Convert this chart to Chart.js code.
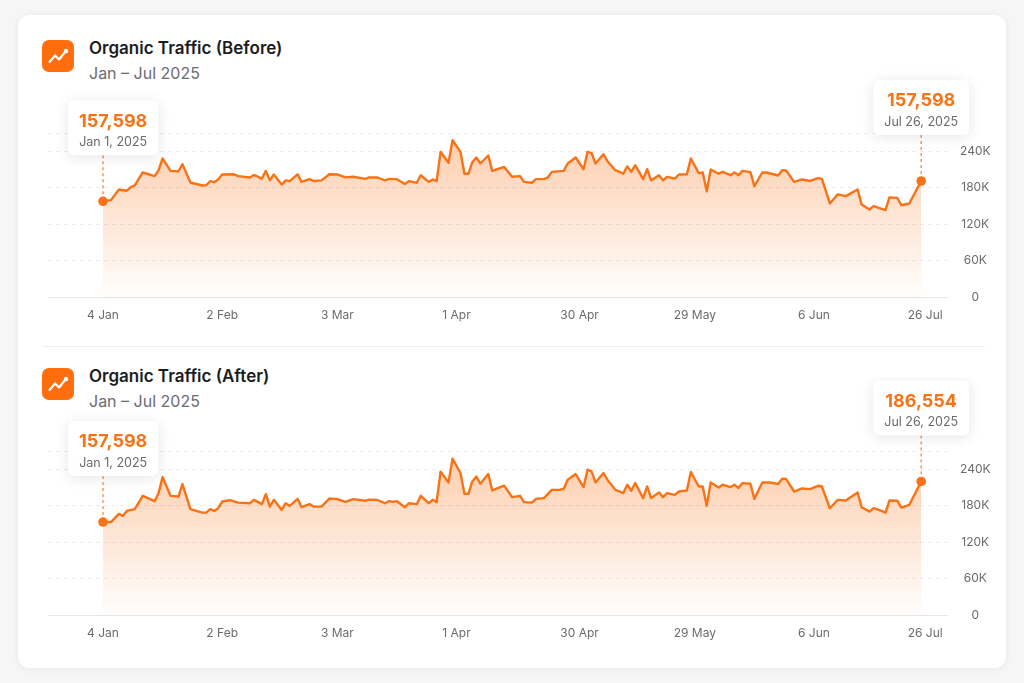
<!DOCTYPE html>
<html>
<head>
<meta charset="utf-8">
<title>Organic Traffic</title>
<script src="https://cdn.jsdelivr.net/npm/chart.js@4.4.1/dist/chart.umd.min.js"></script>
<style>
    html, body {
        margin: 0;
        padding: 0;
        width: 1024px;
        height: 683px;
        background: #f6f6f7;
        font-family: Inter, "Noto Sans", sans-serif;
        overflow: hidden;
    }
    .card {
        position: absolute;
        left: 18px;
        top: 15px;
        width: 988px;
        height: 653px;
        background: #fff;
        border-radius: 12px;
        box-shadow: 0 1px 8px rgba(0, 0, 0, 0.06);
    }
    .icon {
        position: absolute;
        left: 42px;
        width: 32px;
        height: 32px;
        border-radius: 7px;
        background: #ff6d0d;
    }
    .title {
        position: absolute;
        left: 89px;
        font-size: 17px;
        font-weight: 600;
        color: #1c1c1e;
        line-height: 20px;
    }
    .subtitle {
        position: absolute;
        left: 89px;
        font-size: 16px;
        font-weight: 400;
        color: #6b6b6f;
        line-height: 20px;
    }
    .divider {
        position: absolute;
        left: 42px;
        top: 346px;
        width: 943px;
        height: 1px;
        background: #f0f0f1;
    }
    .chart-box {
        position: absolute;
        left: 40px;
        width: 960px;
        height: 275px;
    }
</style>
</head>
<body>
<div class="card"></div>

<!-- Before -->
<div class="icon" style="top:40px">
    <svg width="32" height="32" viewBox="0 0 32 32">
        <polyline points="7.5,22 13,15.5 17,19.5 23.5,11.5" fill="none" stroke="#fff" stroke-width="2.2" stroke-linecap="round" stroke-linejoin="round"/>
        <circle cx="24" cy="11" r="2.2" fill="#fff"/>
    </svg>
</div>
<div class="title" style="top:38px">Organic Traffic (Before)</div>
<div class="subtitle" style="top:63px">Jan – Jul 2025</div>
<div class="chart-box" style="top:60px"><canvas id="chartBefore"></canvas></div>

<div class="divider"></div>

<!-- After -->
<div class="icon" style="top:368px">
    <svg width="32" height="32" viewBox="0 0 32 32">
        <polyline points="7.5,22 13,15.5 17,19.5 23.5,11.5" fill="none" stroke="#fff" stroke-width="2.2" stroke-linecap="round" stroke-linejoin="round"/>
        <circle cx="24" cy="11" r="2.2" fill="#fff"/>
    </svg>
</div>
<div class="title" style="top:366px">Organic Traffic (After)</div>
<div class="subtitle" style="top:391px">Jan – Jul 2025</div>
<div class="chart-box" style="top:378px"><canvas id="chartAfter"></canvas></div>

<script>
// 目盛り（x軸）
var tickDays = [0, 30, 59, 89, 120, 149, 179, 207];
var tickLabels = ["4 Jan", "2 Feb", "3 Mar", "1 Apr", "30 Apr", "29 May", "6 Jun", "26 Jul"];

// 目盛り（y軸）
var yTicks = [0, 60000, 120000, 180000, 240000];
var yTop = 270000;

// Before: 日（1月1日からの日数）と訪問数
var beforeDays = [0, 2, 4, 6, 7, 8, 10, 13, 14, 15,
    17, 19, 20, 22, 25, 26, 27, 28, 29, 30,
    33, 34, 37, 38, 40, 41, 42, 43, 45, 46,
    47, 49, 50, 52, 53, 55, 57, 59, 61, 63,
    66, 67, 69, 71, 72, 74, 76, 77, 79, 80,
    82, 83, 84, 85, 87, 88, 90, 91, 92, 93,
    94, 95, 97, 98, 101, 103, 105, 106, 108, 109,
    111, 112, 113, 116, 117, 119, 121, 122, 123, 124,
    126, 127, 129, 131, 132, 133, 134, 136, 137, 138,
    140, 141, 142, 144, 145, 147, 148, 150, 151, 152,
    153, 155, 156, 158, 159, 160, 161, 163, 164, 166,
    167, 170, 171, 172, 174, 176, 178, 180, 181, 183,
    185, 187, 190, 191, 193, 194, 197, 198, 200, 201,
    203, 206];
var beforeVisits = [157598, 159500, 177000, 175000, 181000, 183600, 205000, 199000, 209000, 228000,
    207600, 207000, 218600, 188500, 183600, 184000, 190700, 189000, 193500, 201700,
    202000, 199000, 196800, 201000, 195000, 207600, 192000, 201700, 185000, 192000,
    190700, 202000, 189500, 194000, 191000, 192000, 202000, 201700, 197000, 198000,
    194500, 196800, 197000, 191800, 194500, 194000, 186000, 190700, 188000, 200500,
    189500, 193500, 190700, 239000, 221000, 258000, 239000, 203000, 203000, 222000,
    229600, 219800, 233000, 207600, 214000, 198000, 199000, 189500, 188000, 194000,
    194000, 196800, 206000, 207600, 219800, 229600, 210400, 239000, 237000, 219800,
    235000, 223600, 208800, 203000, 215000, 206000, 217000, 194000, 210400, 192000,
    200500, 192000, 197800, 195000, 201700, 202000, 228000, 204000, 205000, 174000,
    210000, 203000, 206000, 200500, 205000, 200500, 207600, 205500, 182500, 205000,
    205000, 200000, 208800, 208300, 189500, 193500, 191000, 195600, 194500, 154000,
    169000, 166000, 177000, 152400, 144000, 149600, 143000, 164000, 163000, 151000,
    154000, 191000];

// After
var afterDays = [0, 2, 4, 5, 6, 8, 10, 13, 14, 15,
    17, 19, 20, 22, 25, 26, 27, 28, 29, 30,
    32, 34, 37, 38, 40, 41, 42, 43, 45, 46,
    47, 49, 50, 52, 53, 55, 57, 59, 61, 63,
    66, 67, 69, 71, 72, 73, 74, 76, 77, 79,
    80, 82, 83, 84, 85, 87, 88, 90, 91, 92,
    93, 94, 95, 97, 98, 101, 103, 105, 106, 108,
    109, 111, 113, 115, 116, 117, 119, 121, 122, 123,
    124, 126, 127, 129, 131, 132, 133, 134, 136, 137,
    138, 140, 141, 142, 144, 145, 147, 148, 150, 151,
    152, 153, 155, 156, 158, 159, 160, 161, 163, 164,
    166, 168, 170, 171, 172, 174, 176, 178, 180, 181,
    183, 185, 187, 190, 191, 193, 194, 196, 197, 198,
    200, 201, 203, 206];
var afterVisits = [153000, 153000, 166400, 163000, 171400, 174200, 196200, 187400, 200700, 227000,
    196200, 195000, 215600, 174200, 168500, 168500, 174200, 171400, 175800, 186800,
    189000, 185000, 184000, 189600, 182500, 199000, 178500, 189600, 173000, 184000,
    179600, 191200, 177500, 182500, 178500, 178500, 191700, 190700, 186300, 190700,
    188000, 190000, 189600, 184000, 187400, 186300, 187400, 177500, 184000, 182500,
    196200, 184000, 189600, 185800, 236000, 218200, 257500, 233800, 199500, 199500,
    219900, 228000, 216000, 232000, 205000, 213000, 194000, 196200, 185800, 185000,
    191200, 192400, 206000, 206000, 207800, 222700, 232000, 210600, 239200, 236400,
    218200, 233800, 222700, 206000, 200700, 214400, 204500, 217200, 192400, 211600,
    192400, 201700, 194000, 200700, 197800, 203300, 205000, 235400, 211600, 211600,
    179600, 218200, 210000, 214400, 210600, 214400, 209000, 217200, 216000, 191200,
    218200, 218200, 215600, 224300, 223800, 203300, 208300, 207300, 212700, 211600,
    175800, 189600, 188400, 201700, 177500, 170200, 175800, 171400, 168500, 188400,
    188000, 176800, 181300, 219900];

// 吹き出しのテキスト（最初と最後の点）
var calloutDates = ["Jan 1, 2025", "Jul 26, 2025"];
var beforeCallouts = ["157,598", "157,598"];
var afterCallouts = ["157,598", "186,554"];

var ORANGE = "#f97316";

Chart.defaults.font.family = "Inter, 'Noto Sans', sans-serif";
Chart.defaults.color = "#6b6b6f";

// 吹き出しを描くプラグイン
var calloutPlugin = {
    id: "callouts",
    afterDatasetsDraw: function (chart, args, opts) {
        var ctx = chart.ctx;
        var area = chart.chartArea;
        var meta = chart.getDatasetMeta(0);
        var idx = [0, meta.data.length - 1];

        for (var k = 0; k < idx.length; k++) {
            var pt = meta.data[idx[k]];
            var valueText = opts.values[k];
            var dateText = opts.dates[k];

            ctx.save();
            ctx.font = "700 18px Inter";
            var w1 = ctx.measureText(valueText).width;
            ctx.font = "400 12.5px Inter";
            var w2 = ctx.measureText(dateText).width;
            var w = Math.max(w1, w2) + 22;
            var h = 55;
            var bx = Math.max(pt.x - w / 2, area.left + 20);
            var by = pt.y - 46 - h;

            // 点線
            ctx.strokeStyle = "rgba(249,115,22,0.85)";
            ctx.lineWidth = 1.3;
            ctx.setLineDash([3, 3]);
            ctx.beginPath();
            ctx.moveTo(pt.x, by + h);
            ctx.lineTo(pt.x, pt.y - 4);
            ctx.stroke();

            // ボックス
            ctx.setLineDash([]);
            ctx.shadowColor = "rgba(0,0,0,0.10)";
            ctx.shadowBlur = 14;
            ctx.shadowOffsetY = 2;
            ctx.fillStyle = "#fff";
            ctx.beginPath();
            ctx.roundRect(bx, by, w, h, 6);
            ctx.fill();
            ctx.shadowColor = "transparent";

            ctx.textAlign = "center";
            ctx.textBaseline = "middle";
            ctx.fillStyle = ORANGE;
            ctx.font = "700 18px Inter";
            ctx.fillText(valueText, bx + w / 2, by + 21);
            ctx.fillStyle = "#6b6b6f";
            ctx.font = "400 12.5px Inter";
            ctx.fillText(dateText, bx + w / 2, by + 42);
            ctx.restore();
        }
    }
};

function makeChart(canvasId, days, visits, callouts) {
    var points = days.map(function (d, i) { return { x: d, y: visits[i] }; });

    var ctx = document.getElementById(canvasId).getContext("2d");
    return new Chart(ctx, {
        type: "line",
        data: {
            datasets: [{
                data: points,
                borderColor: ORANGE,
                borderWidth: 2.4,
                borderJoinStyle: "round",
                tension: 0,
                fill: "origin",
                backgroundColor: function (c) {
                    var area = c.chart.chartArea;
                    if (!area) return "rgba(249,115,22,0.2)";
                    var g = c.chart.ctx.createLinearGradient(0, area.top, 0, area.bottom);
                    g.addColorStop(0, "rgba(249,115,22,0.36)");
                    g.addColorStop(1, "rgba(249,115,22,0.01)");
                    return g;
                },
                pointRadius: function (c) {
                    return (c.dataIndex === 0 || c.dataIndex === points.length - 1) ? 4.8 : 0;
                },
                pointBackgroundColor: ORANGE,
                pointBorderWidth: 0,
                pointHoverRadius: 0
            }]
        },
        options: {
            responsive: true,
            maintainAspectRatio: false,
            animation: false,
            layout: { padding: { left: 8, top: 73, right: 0, bottom: 0 } },
            plugins: {
                legend: { display: false },
                tooltip: { enabled: false },
                callouts: { values: callouts, dates: calloutDates }
            },
            scales: {
                x: {
                    type: "linear",
                    min: -13.85,
                    max: 212.5,
                    grid: { display: false },
                    border: { display: true, color: "#e6e6e8", width: 1 },
                    afterBuildTicks: function (scale) {
                        scale.ticks = tickDays.map(function (v) { return { value: v }; });
                    },
                    afterFit: function (scale) { scale.height = 38; },
                    ticks: {
                        autoSkip: false,
                        maxRotation: 0,
                        padding: 3,
                        font: { size: 12 },
                        color: "#6b6b6f",
                        callback: function (v) { return tickLabels[tickDays.indexOf(v)]; }
                    }
                },
                y: {
                    position: "right",
                    min: 0,
                    max: yTop,
                    grid: {
                        drawTicks: false,
                        color: function (c) { return c.tick && c.tick.value === 0 ? "transparent" : "#ececee"; },
                        lineWidth: 1
                    },
                    border: { display: false, dash: [4, 4] },
                    afterBuildTicks: function (scale) {
                        scale.ticks = yTicks.concat([yTop]).map(function (v) { return { value: v }; });
                    },
                    afterFit: function (scale) { scale.width = 53; },
                    ticks: {
                        crossAlign: "center",
                        padding: 13,
                        font: { size: 12 },
                        color: "#6b6b6f",
                        callback: function (v) {
                            if (v === yTop) return "";
                            return v === 0 ? "0" : (v / 1000) + "K";
                        }
                    }
                }
            }
        },
        plugins: [calloutPlugin]
    });
}

makeChart("chartBefore", beforeDays, beforeVisits, beforeCallouts);
makeChart("chartAfter", afterDays, afterVisits, afterCallouts);
</script>
</body>
</html>
